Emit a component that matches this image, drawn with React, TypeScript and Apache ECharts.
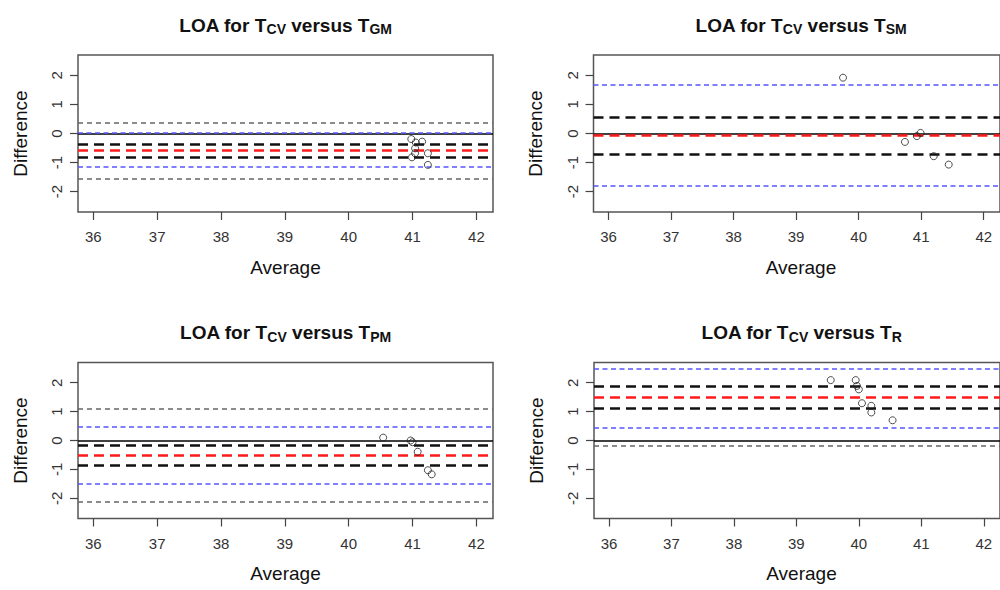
import React, { useEffect, useRef } from "react";
import * as echarts from "echarts";

// ---- data ----
const xTicks = [36, 37, 38, 39, 40, 41, 42];
const yTicks = [-2, -1, 0, 1, 2];
const xMin = 35.76;
const xMax = 42.26;
const yMin = -2.7;
const yMax = 2.7;

const panelSubs = ["GM", "SM", "PM", "R"];

const avgGM = [40.98, 41.05, 41.15, 41.04, 41.04, 40.99, 41.24, 41.24];
const diffGM = [-0.19, -0.31, -0.28, -0.51, -0.68, -0.82, -0.68, -1.08];
const avgSM = [39.75, 40.74, 40.93, 40.99, 41.2, 41.44];
const diffSM = [1.92, -0.29, -0.09, 0.02, -0.78, -1.07];
const avgPM = [40.54, 40.97, 41.0, 41.08, 41.24, 41.3];
const diffPM = [0.1, 0.0, -0.06, -0.39, -1.03, -1.17];
const avgR = [39.55, 39.95, 39.97, 40.0, 40.05, 40.2, 40.2, 40.54];
const diffR = [2.09, 2.09, 1.89, 1.77, 1.29, 1.2, 0.97, 0.7];

const meanDiff = [-0.59, -0.06, -0.5, 1.49];
const meanCI = [[-0.36, -0.82], [0.55, -0.72], [-0.16, -0.86], [1.89, 1.12]];
const loa = [[0.02, -1.16], [1.66, -1.8], [0.47, -1.48], [2.49, 0.44]];
const loaCI = [[0.38, -1.56], [], [1.1, -2.12], [-0.19]];

const avgs = [avgGM, avgSM, avgPM, avgR];
const diffs = [diffGM, diffSM, diffPM, diffR];

// ---- layout ----
const boxes = [
  { left: 78, top: 55, width: 415, height: 157 },
  { left: 593.5, top: 55, width: 415, height: 157 },
  { left: 78, top: 362.5, width: 415, height: 156 },
  { left: 594, top: 362.5, width: 415, height: 156 },
];

const FONT = "Liberation Sans, Arial, Helvetica, sans-serif";

export default function App() {
  const ref = useRef<HTMLDivElement>(null);

  useEffect(() => {
    if (!ref.current) return;
    const chart = echarts.init(ref.current, undefined, { renderer: "svg" });

    const grids = boxes.map((b) => ({
      left: b.left,
      top: b.top,
      width: b.width,
      height: b.height,
      show: true,
      borderColor: "#555",
      borderWidth: 1.5,
      backgroundColor: "transparent",
      containLabel: false,
    }));

    const xAxes = boxes.map((_, i) => ({
      type: "value",
      gridIndex: i,
      min: xMin,
      max: xMax,
      axisLine: { show: false, onZero: false },
      axisTick: {
        show: true,
        length: 8,
        inside: false,
        customValues: xTicks,
        lineStyle: { color: "#444", width: 1.2 },
      },
      axisLabel: {
        show: true,
        customValues: xTicks,
        margin: 17,
        fontSize: 15,
        color: "#333",
        fontFamily: FONT,
      },
      splitLine: { show: false },
    }));

    const yAxes = boxes.map((_, i) => ({
      type: "value",
      gridIndex: i,
      min: yMin,
      max: yMax,
      axisLine: { show: false, onZero: false },
      axisTick: {
        show: true,
        length: 8,
        inside: false,
        customValues: yTicks,
        lineStyle: { color: "#444", width: 1.2 },
      },
      axisLabel: {
        show: true,
        customValues: yTicks,
        rotate: 90,
        margin: 14,
        fontSize: 15,
        color: "#333",
        fontFamily: FONT,
      },
      splitLine: { show: false },
    }));

    const solid = (color: string, width: number) => ({ type: "solid", color, width });
    const dashed = (color: string, width: number, pat: number[]) => ({
      type: pat,
      color,
      width,
    });

    const series: any[] = [];
    boxes.forEach((_, i) => {
      const ml: any[] = [];
      ml.push({ yAxis: 0, lineStyle: solid("#000", 1.6) });
      loaCI[i].forEach((v) => ml.push({ yAxis: v, lineStyle: dashed("#666", 1.6, [5, 4]) }));
      loa[i].forEach((v) => ml.push({ yAxis: v, lineStyle: dashed("#5555ff", 1.6, [5, 3.5]) }));
      meanCI[i].forEach((v) => ml.push({ yAxis: v, lineStyle: dashed("#111", 2.6, [10, 6]) }));
      ml.push({ yAxis: meanDiff[i], lineStyle: dashed("#ff1a1a", 2.6, [10, 6]) });

      series.push({
        type: "line",
        xAxisIndex: i,
        yAxisIndex: i,
        data: [],
        silent: true,
        markLine: {
          silent: true,
          symbol: "none",
          label: { show: false },
          emphasis: { disabled: true },
          data: ml,
        },
      });
      series.push({
        type: "scatter",
        xAxisIndex: i,
        yAxisIndex: i,
        z: 10,
        symbol: "circle",
        symbolSize: 7,
        itemStyle: { color: "transparent", borderColor: "#222", borderWidth: 1 },
        data: avgs[i].map((a, k) => [a, diffs[i][k]]),
      });
    });

    const graphics: any[] = [];
    boxes.forEach((b, i) => {
      const cx = b.left + b.width / 2;
      graphics.push({
        type: "text",
        x: cx,
        y: b.top - 30,
        style: {
          text: `{m|LOA for T}{s|CV}{m| versus T}{s|${panelSubs[i]}}`,
          align: "center",
          verticalAlign: "middle",
          rich: {
            m: {
              fontSize: 19,
              fontWeight: "bold",
              fontFamily: FONT,
              fill: "#111",
              lineHeight: 22,
              verticalAlign: "middle",
            },
            s: {
              fontSize: 14,
              fontWeight: "bold",
              fontFamily: FONT,
              fill: "#111",
              lineHeight: 13,
              verticalAlign: "bottom",
            },
          },
        },
      });
      graphics.push({
        type: "text",
        x: cx,
        y: b.top + b.height + 55,
        style: {
          text: "Average",
          align: "center",
          verticalAlign: "middle",
          fontSize: 19,
          fontFamily: FONT,
          fill: "#111",
        },
      });
      graphics.push({
        type: "text",
        x: b.left - 58,
        y: b.top + b.height / 2,
        rotation: Math.PI / 2,
        style: {
          text: "Difference",
          align: "center",
          verticalAlign: "middle",
          fontSize: 19,
          fontFamily: FONT,
          fill: "#111",
        },
      });
    });

    chart.setOption({
      animation: false,
      backgroundColor: "#fff",
      grid: grids,
      xAxis: xAxes,
      yAxis: yAxes,
      series,
      graphic: graphics,
    });

    return () => chart.dispose();
  }, []);

  return (
    <div
      ref={ref}
      style={{ position: "fixed", left: 0, top: 0, width: 1000, height: 590 }}
    />
  );
}
